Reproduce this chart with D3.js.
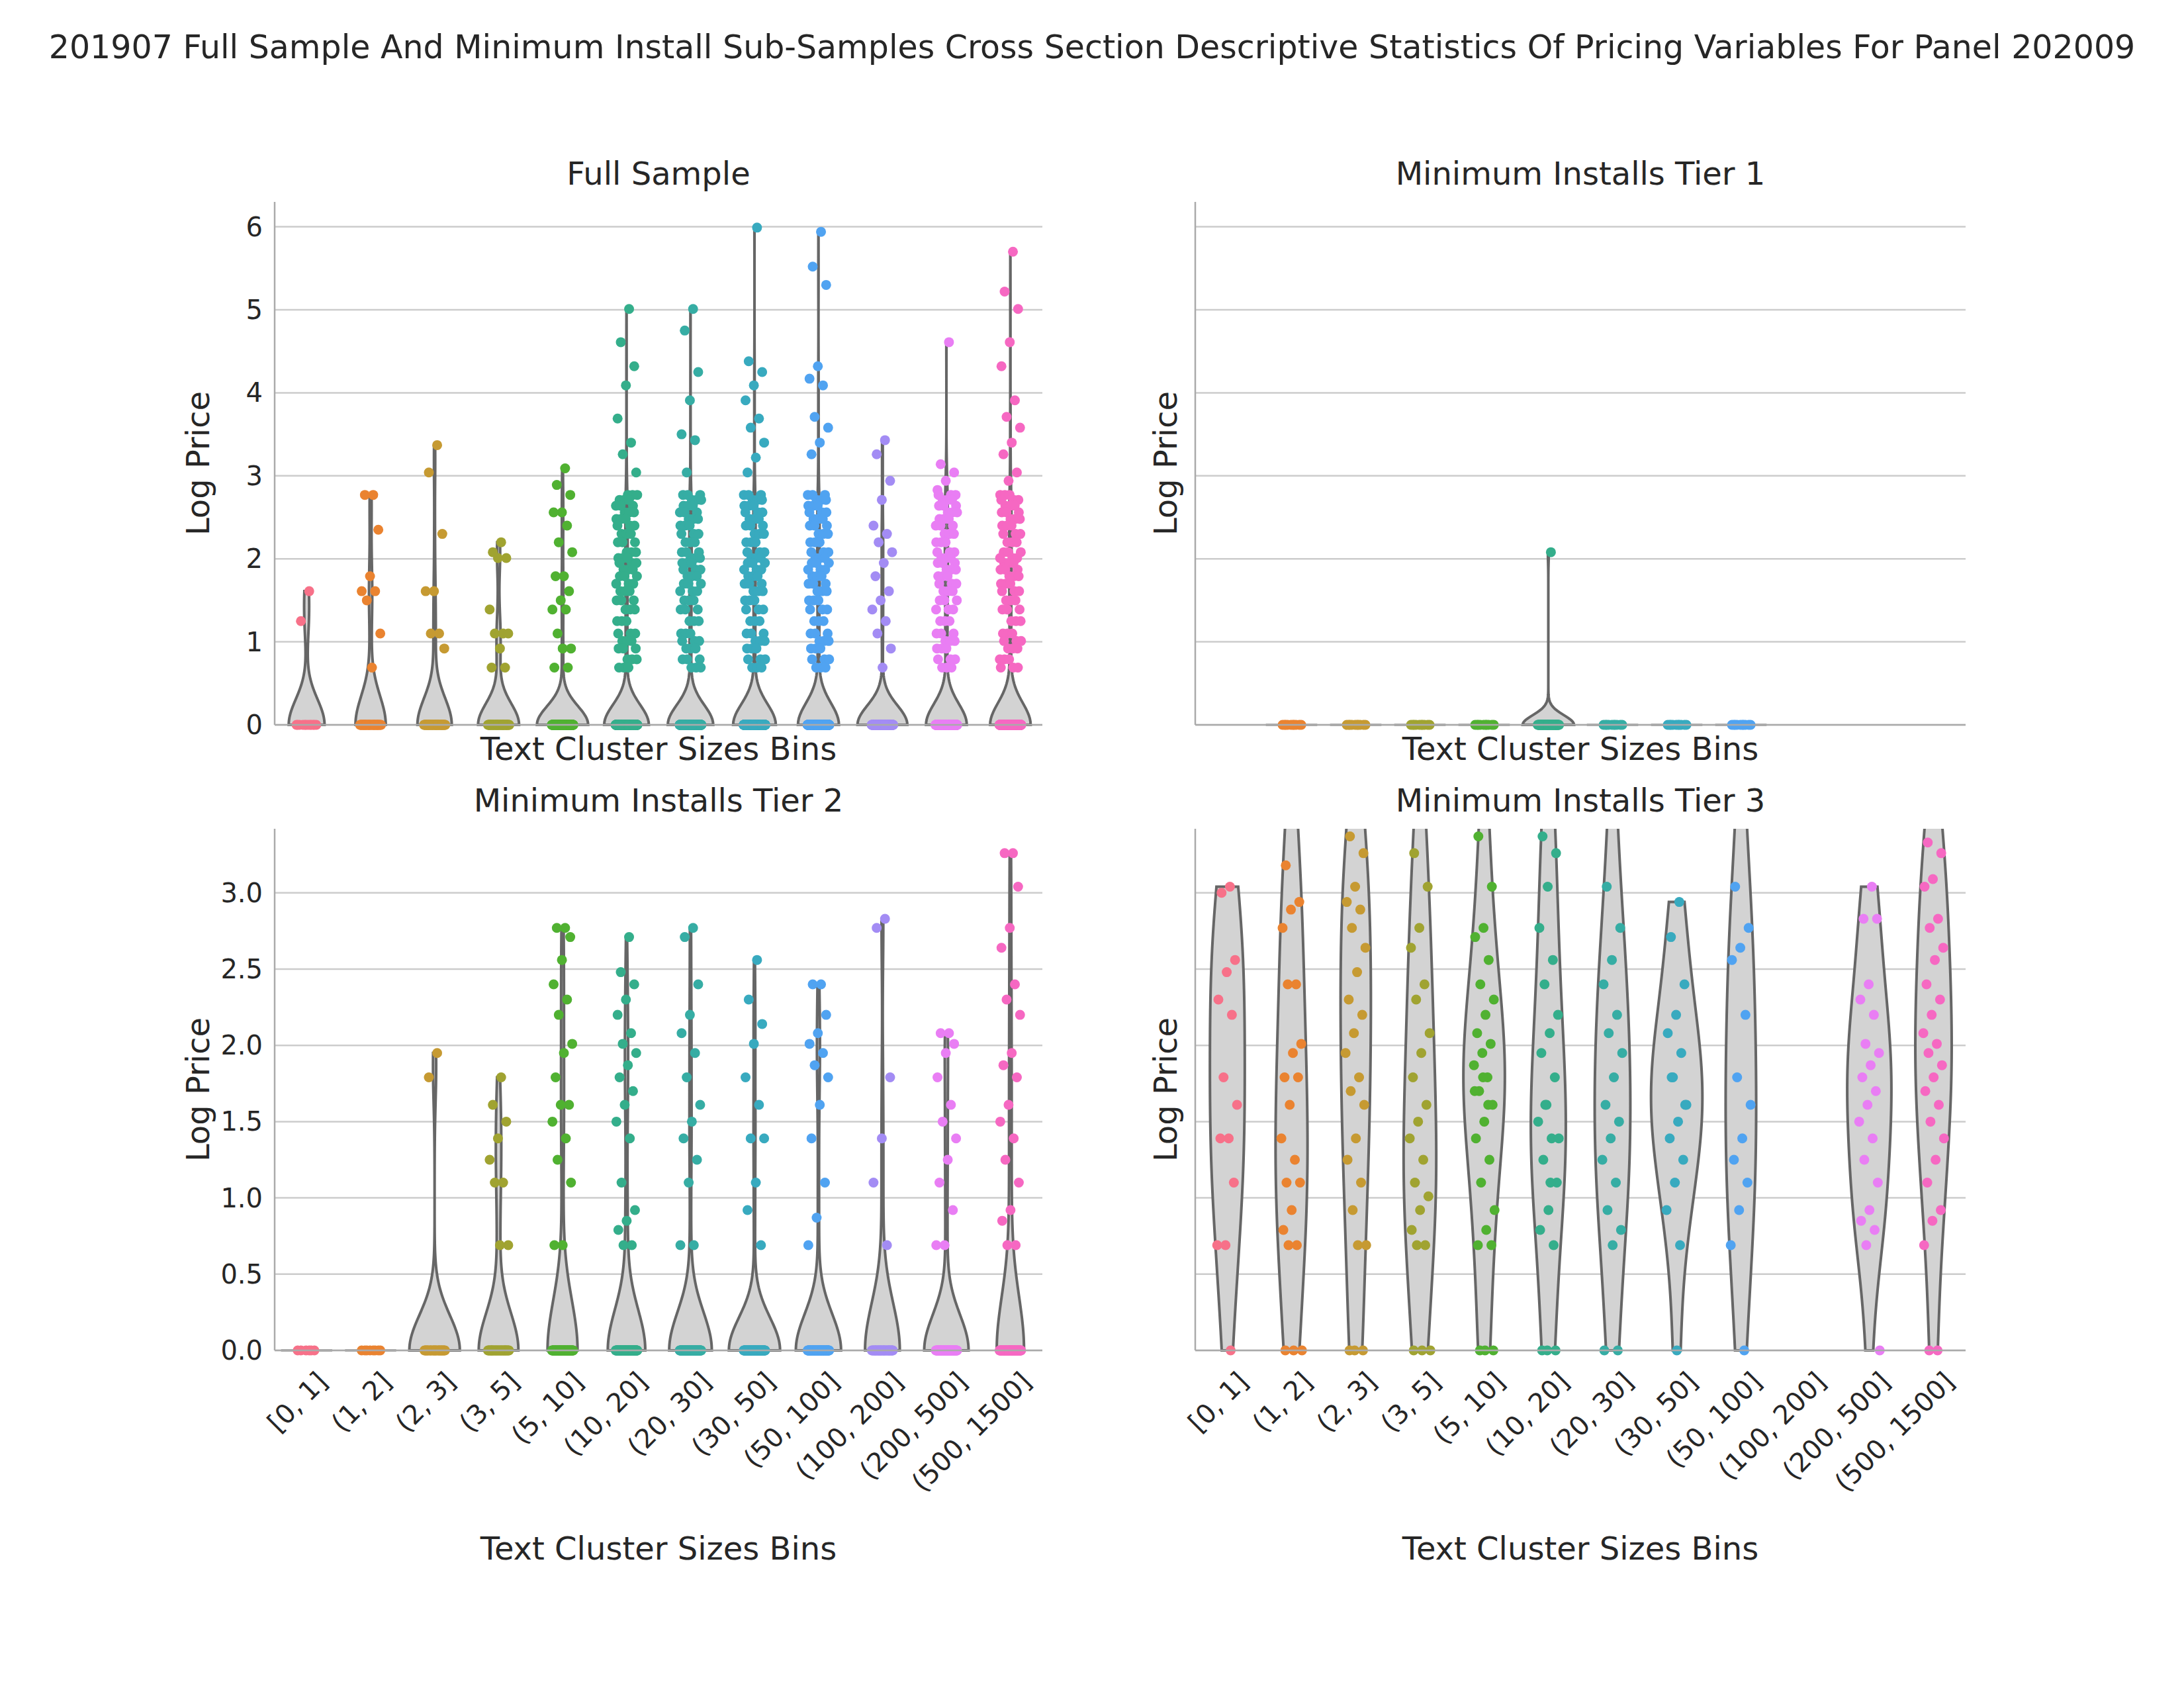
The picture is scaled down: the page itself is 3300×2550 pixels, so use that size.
<!DOCTYPE html>
<html><head><meta charset="utf-8">
<script src="https://cdn.jsdelivr.net/npm/d3@7"></script>
<style>body{margin:0;background:#fff}text{font-family:"DejaVu Sans",sans-serif;fill:#262626}</style>
</head><body><svg id="c" width="3300" height="2550"></svg>
<script>
const categories=["[0, 1]","(1, 2]","(2, 3]","(3, 5]","(5, 10]","(10, 20]","(20, 30]","(30, 50]","(50, 100]","(100, 200]","(200, 500]","(500, 1500]"];
const colors=['#f77189','#ea8330','#c69a32','#a0a331','#50b131','#34ae8b','#36ada4','#38aabf','#50a3f1','#a38cf4','#e97ef4','#f668c2'];
const dense=[2.77,2.71,2.64,2.56,2.48,2.40,2.30,2.20,2.08,2.01,1.95,1.87,1.79,1.70,1.61,1.50,1.39,1.25,1.10,1.01,0.92,0.79,0.69];
const fullValues=[[1.61,1.25],[2.77,2.77,2.35,1.79,1.61,1.61,1.5,1.1,0.69],[3.37,3.04,2.30,1.61,1.61,1.10,1.10,0.92],
[2.20,2.08,2.01,2.01,1.39,1.10,1.10,1.10,0.92,0.69,0.69],
[3.09,2.89,2.77,2.56,2.56,2.40,2.20,2.08,1.79,1.79,1.61,1.50,1.39,1.39,1.10,0.92,0.92,0.69,0.69],
[5.01,4.61,4.32,4.09,3.69,3.40,3.26,3.04,...dense,...dense,...dense],
[5.01,4.75,4.25,3.91,3.50,3.43,3.04,...dense,...dense,...dense],
[5.99,4.38,4.25,4.09,3.91,3.69,3.58,3.40,3.22,3.04,...dense,...dense,...dense],
[5.94,5.52,5.30,4.32,4.17,4.09,3.71,3.58,3.40,3.26,...dense,...dense,...dense],
[3.43,3.26,2.94,2.71,2.40,2.30,2.20,2.08,1.95,1.79,1.61,1.50,1.39,1.25,1.10,0.92,0.69],
[4.61,3.14,3.04,2.94,2.83,...dense,...dense,...dense],
[5.70,5.22,5.01,4.61,4.32,3.91,3.71,3.58,3.40,3.26,3.04,2.94,...dense,...dense,...dense]];
const fullZeros=[12,40,50,50,150,400,400,400,400,150,300,400];
const tier1Values=[[],[],[],[],[],[2.08],[],[],[],[],[],[]];
const tier1Zeros=[0,10,10,10,10,60,10,10,10,0,0,0];
const tier2Values=[[],[],[1.95,1.79],[1.79,1.61,1.50,1.39,1.25,1.10,1.10,0.69,0.69],
[2.77,2.77,2.71,2.56,2.40,2.30,2.20,2.01,1.95,1.79,1.61,1.61,1.50,1.39,1.25,1.10,0.69,0.69],
[2.71,2.48,2.40,2.30,2.20,2.08,2.01,1.95,1.87,1.79,1.70,1.61,1.50,1.39,1.10,0.92,0.85,0.79,0.69,0.69],
[2.77,2.71,2.40,2.20,2.08,1.95,1.79,1.61,1.50,1.39,1.25,1.10,0.69,0.69],
[2.56,2.30,2.14,2.01,1.79,1.61,1.39,1.39,1.10,0.92,0.69],
[2.40,2.40,2.20,2.08,2.01,1.95,1.87,1.79,1.61,1.39,1.10,0.87,0.69],
[2.83,2.77,1.79,1.39,1.10,0.69],
[2.08,2.08,2.01,1.95,1.79,1.61,1.50,1.39,1.25,1.10,0.92,0.69,0.69],
[3.26,3.26,3.04,2.77,2.64,2.40,2.30,2.20,1.95,1.87,1.79,1.61,1.50,1.39,1.25,1.10,0.92,0.85,0.69,0.69]];
const tier2Zeros=[6,8,30,35,70,90,90,90,90,40,70,70];
const tier3Values=[[3.04,3.00,2.56,2.48,2.30,2.20,1.79,1.61,1.39,1.39,1.10,0.69,0.69],
[3.6,3.18,2.94,2.89,2.77,2.40,2.40,2.01,1.95,1.79,1.79,1.61,1.39,1.25,1.10,1.10,0.92,0.79,0.69,0.69],
[3.6,3.37,3.26,3.04,2.94,2.89,2.77,2.64,2.48,2.30,2.20,2.08,1.95,1.79,1.70,1.61,1.39,1.25,1.10,0.92,0.69,0.69],
[3.6,3.26,3.04,2.77,2.64,2.40,2.30,2.08,1.95,1.79,1.61,1.50,1.39,1.25,1.10,1.01,0.92,0.79,0.69,0.69],
[3.6,3.37,3.04,2.77,2.71,2.56,2.40,2.30,2.20,2.08,2.01,1.95,1.87,1.79,1.70,1.61,1.50,1.39,1.25,1.10,0.92,0.79,0.69,0.69,1.79,1.70,1.61],
[3.8,3.37,3.26,3.04,2.77,2.56,2.40,2.20,2.08,1.95,1.79,1.61,1.50,1.39,1.25,1.10,0.92,0.79,0.69,1.61,1.39,1.10],
[3.6,3.04,2.77,2.56,2.40,2.20,2.08,1.95,1.79,1.61,1.50,1.39,1.25,1.10,0.92,0.79,0.69],
[2.94,2.71,2.40,2.20,2.08,1.95,1.79,1.61,1.50,1.39,1.25,1.10,0.92,0.69,1.79,1.61],
[5.0,3.04,2.77,2.64,2.56,2.20,1.79,1.61,1.39,1.25,1.10,0.92,0.69],
[],
[3.04,2.83,2.83,2.40,2.30,2.20,2.01,1.95,1.87,1.79,1.70,1.61,1.50,1.39,1.25,1.10,0.92,0.85,0.79,0.69],
[3.6,3.33,3.26,3.09,3.04,2.83,2.77,2.64,2.56,2.40,2.30,2.20,2.08,2.01,1.95,1.87,1.79,1.70,1.61,1.50,1.39,1.25,1.10,0.92,0.85,0.69]];
const tier3Zeros=[1,3,3,3,3,3,2,1,1,0,1,2];
const topTicks=[0,1,2,3,4,5,6];
const bottomTicks=[0,0.5,1,1.5,2,2.5,3];

const svg=d3.select("#c");
svg.append("text").attr("x",1650).attr("y",88).attr("text-anchor","middle").attr("font-size",49)
 .text("201907 Full Sample And Minimum Install Sub-Samples Cross Section Descriptive Statistics Of Pricing Variables For Panel 202009");

const panels=[
 {title:"Full Sample",vals:fullValues,zeros:fullZeros,x0:415,x1:1575,y0:305,y1:1095,dom:[0,6.3],ticks:topTicks,fmt:d3.format("d"),left:true,bottom:false},
 {title:"Minimum Installs Tier 1",vals:tier1Values,zeros:tier1Zeros,x0:1806,x1:2970,y0:305,y1:1095,dom:[0,6.3],ticks:topTicks,fmt:d3.format("d"),left:false,bottom:false},
 {title:"Minimum Installs Tier 2",vals:tier2Values,zeros:tier2Zeros,x0:415,x1:1575,y0:1252,y1:2040,dom:[0,3.42],ticks:bottomTicks,fmt:d3.format(".1f"),left:true,bottom:true},
 {title:"Minimum Installs Tier 3",vals:tier3Values,zeros:tier3Zeros,x0:1806,x1:2970,y0:1252,y1:2040,dom:[0,3.42],ticks:bottomTicks,fmt:d3.format(".1f"),left:false,bottom:true}];

function kde(data,grid){
 const n=data.length,sd=d3.deviation(data)||0;
 const bw=sd*Math.pow(n,-0.2);
 return grid.map(g=>[g,d3.mean(data,v=>Math.exp(-0.5*((g-v)/bw)**2))/(bw*Math.sqrt(2*Math.PI))]);
}
panels.forEach((p,pi)=>{
 const g=svg.append("g");
 const x=d3.scaleBand().domain(categories).range([p.x0,p.x1]);
 const y=d3.scaleLinear().domain(p.dom).range([p.y1,p.y0]);
 const bw=x.bandwidth();
 p.ticks.forEach(t=>g.append("line").attr("x1",p.x0).attr("x2",p.x1).attr("y1",y(t)).attr("y2",y(t)).attr("stroke","#cccccc").attr("stroke-width",2.5));
 const cid="clip"+pi;
 svg.append("clipPath").attr("id",cid).append("rect").attr("x",p.x0).attr("y",p.y0).attr("width",p.x1-p.x0).attr("height",p.y1-p.y0+10);
 const plot=g.append("g").attr("clip-path",`url(#${cid})`);
 const all=p.vals.map((v,i)=>v.concat(d3.range(p.zeros[i]).map(()=>0)));
 const dens=all.map(d=>{
  if(d.length<2||(d3.deviation(d)||0)===0) return null;
  const lo=d3.min(d),hi=d3.max(d);
  return kde(d,d3.range(151).map(k=>lo+(hi-lo)*k/150));
 });
 const maxD=d3.max(dens.filter(d=>d),d=>d3.max(d,e=>e[1]))||1;
 all.forEach((d,i)=>{
  if(!d.length) return;
  const cx=x(categories[i])+bw/2;
  const dd=dens[i];
  if(!dd){
   plot.append("line").attr("x1",cx-bw*0.4).attr("x2",cx+bw*0.4).attr("y1",y(d[0])).attr("y2",y(d[0])).attr("stroke","#666").attr("stroke-width",3);
   return;
  }
  const w=d3.scaleLinear().domain([0,maxD]).range([0,bw*0.4]);
  const area=d3.area().y(e=>y(e[0])).x0(e=>cx-w(e[1])).x1(e=>cx+w(e[1]));
  plot.append("path").attr("d",area(dd)+"Z").attr("fill","#d3d3d3").attr("stroke","#666").attr("stroke-width",4);
 });
 all.forEach((d,i)=>{
  const cx=x(categories[i])+bw/2;
  d.forEach((v,k)=>{
   const j=(((k+1)*0.618034)%1-0.5)*bw*0.34;
   plot.append("circle").attr("cx",cx+j).attr("cy",y(v)).attr("r",7.5).attr("fill",colors[i]);
  });
 });
 g.append("line").attr("x1",p.x0).attr("x2",p.x0).attr("y1",p.y0).attr("y2",p.y1).attr("stroke","#aaa").attr("stroke-width",2.5);
 g.append("line").attr("x1",p.x0).attr("x2",p.x1).attr("y1",p.y1).attr("y2",p.y1).attr("stroke","#aaa").attr("stroke-width",2.5);
 if(p.left) p.ticks.forEach(t=>g.append("text").attr("x",p.x0-18).attr("y",y(t)).attr("dy","0.35em").attr("text-anchor","end").attr("font-size",40).text(p.fmt(t)));
 if(p.bottom) categories.forEach(c=>{
  const cx=x(c)+bw/2,ty=p.y1+30;
  g.append("text").attr("transform",`translate(${cx+14},${ty}) rotate(-45)`).attr("text-anchor","end").attr("dy","0.7em").attr("font-size",40).text(c);
 });
 g.append("text").attr("x",(p.x0+p.x1)/2).attr("y",p.y0-26).attr("text-anchor","middle").attr("font-size",48).text(p.title);
 g.append("text").attr("x",(p.x0+p.x1)/2).attr("y",p.bottom?2356:1148).attr("text-anchor","middle").attr("font-size",48).text("Text Cluster Sizes Bins");
 g.append("text").attr("transform",`translate(${p.left?316:1778},${(p.y0+p.y1)/2}) rotate(-90)`).attr("text-anchor","middle").attr("font-size",48).text("Log Price");
});
</script></body></html>
